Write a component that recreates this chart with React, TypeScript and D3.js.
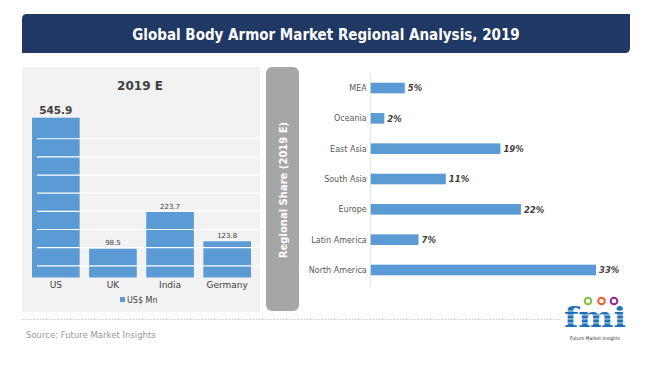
import React, { useEffect, useRef } from "react";
import * as d3 from "d3";

// left chart: 2019 E market value, US$ Mn
const countries = ["US", "UK", "India", "Germany"];
const countryValues = [545.9, 98.5, 223.7, 123.8];
const gridValues = [40, 102, 164, 226, 288, 350, 412, 474];

// right chart: regional share (2019 E)
const regions = ["MEA", "Oceania", "East Asia", "South Asia", "Europe", "Latin America", "North America"];
const regionShares = [5, 2, 19, 11, 22, 7, 33];

const W = 650;
const H = 366;
const FONT = "'DejaVu Sans', Verdana, sans-serif";
const BLUE = "#5b9bd5";

const drawChart = (node: SVGSVGElement) => {
    const svg = d3.select(node);
    svg.selectAll("*").remove();

    // header bar (top-left and bottom-right rounded)
    const hx0 = 22, hx1 = 630, hy0 = 14, hy1 = 53, r = 5;
    svg.append("path")
        .attr("d", `M${hx0},${hy1} V${hy0 + r} Q${hx0},${hy0} ${hx0 + r},${hy0} H${hx1} V${hy1 - r} Q${hx1},${hy1} ${hx1 - r},${hy1} Z`)
        .attr("fill", "#203864");
    svg.append("text")
        .attr("x", 326)
        .attr("y", 40)
        .attr("text-anchor", "middle")
        .attr("fill", "white")
        .attr("font-family", "'DejaVu Sans Condensed', 'DejaVu Sans', sans-serif")
        .attr("font-weight", "bold")
        .attr("font-size", 15)
        .text("Global Body Armor Market Regional Analysis, 2019");

    // left panel
    svg.append("rect")
        .attr("x", 22).attr("y", 67)
        .attr("width", 238).attr("height", 245)
        .attr("fill", "#f2f2f2");
    svg.append("text")
        .attr("x", 140).attr("y", 90)
        .attr("text-anchor", "middle")
        .attr("fill", "#404040")
        .attr("font-family", FONT)
        .attr("font-weight", "bold")
        .attr("font-size", 12)
        .text("2019 E");

    const x = d3.scaleBand()
        .domain(countries)
        .range([32, 251])
        .paddingInner(0.166)
        .paddingOuter(0);
    const y = d3.scaleLinear()
        .domain([0, 545.9])
        .range([277.5, 117.7]);

    const left = svg.append("g");
    left.selectAll("rect.bar")
        .data(countryValues)
        .join("rect")
        .attr("class", "bar")
        .attr("x", (d, i) => x(countries[i])!)
        .attr("y", d => y(d))
        .attr("width", x.bandwidth())
        .attr("height", d => y(0) - y(d))
        .attr("fill", BLUE);

    // white gridlines drawn over the bars
    left.selectAll("line.grid")
        .data(gridValues)
        .join("line")
        .attr("class", "grid")
        .attr("x1", 37).attr("x2", 260)
        .attr("y1", d => y(d)).attr("y2", d => y(d))
        .attr("stroke", "white")
        .attr("stroke-width", 1.2);

    left.selectAll("text.val")
        .data(countryValues)
        .join("text")
        .attr("class", "val")
        .attr("x", (d, i) => x(countries[i])! + x.bandwidth() / 2)
        .attr("y", (d, i) => y(d) - (i === 0 ? 4 : 3.5))
        .attr("text-anchor", "middle")
        .attr("fill", "#404040")
        .attr("font-family", FONT)
        .attr("font-weight", (d, i) => (i === 0 ? "bold" : "normal"))
        .attr("font-size", (d, i) => (i === 0 ? 10.5 : 7))
        .text(d => d.toFixed(1));

    left.selectAll("text.cat")
        .data(countries)
        .join("text")
        .attr("class", "cat")
        .attr("x", d => x(d)! + x.bandwidth() / 2)
        .attr("y", 287.5)
        .attr("text-anchor", "middle")
        .attr("fill", "#404040")
        .attr("font-family", FONT)
        .attr("font-size", 9)
        .text(d => d);

    // legend
    svg.append("rect")
        .attr("x", 120).attr("y", 297)
        .attr("width", 5).attr("height", 5)
        .attr("fill", BLUE);
    svg.append("text")
        .attr("x", 127).attr("y", 302.5)
        .attr("fill", "#404040")
        .attr("font-family", FONT)
        .attr("font-size", 8)
        .text("US$ Mn");

    // grey vertical label box
    svg.append("rect")
        .attr("x", 266).attr("y", 67)
        .attr("width", 33).attr("height", 244)
        .attr("rx", 6)
        .attr("fill", "#a6a6a6");
    svg.append("text")
        .attr("transform", "translate(286.5,190) rotate(-90)")
        .attr("text-anchor", "middle")
        .attr("fill", "white")
        .attr("font-family", FONT)
        .attr("font-weight", "bold")
        .attr("font-size", 10)
        .text("Regional Share (2019 E)");

    // right horizontal bar chart
    const yb = d3.scaleBand()
        .domain(regions)
        .range([73, 285])
        .paddingInner(0.65)
        .paddingOuter(0.32);
    const xs = d3.scaleLinear()
        .domain([0, 33])
        .range([370.7, 596]);

    const right = svg.append("g");
    right.append("line")
        .attr("x1", xs(0)).attr("x2", xs(0))
        .attr("y1", 73).attr("y2", 287)
        .attr("stroke", "#e3e3e3")
        .attr("stroke-width", 1);

    right.selectAll("rect.hbar")
        .data(regionShares)
        .join("rect")
        .attr("class", "hbar")
        .attr("x", xs(0))
        .attr("y", (d, i) => yb(regions[i])!)
        .attr("width", d => xs(d) - xs(0))
        .attr("height", yb.bandwidth())
        .attr("fill", BLUE);

    right.selectAll("text.pct")
        .data(regionShares)
        .join("text")
        .attr("class", "pct")
        .attr("x", d => xs(d) + 3)
        .attr("y", (d, i) => yb(regions[i])! + yb.bandwidth() / 2 + 3.3)
        .attr("fill", "#404040")
        .attr("font-family", FONT)
        .attr("font-weight", "bold")
        .attr("font-style", "italic")
        .attr("font-size", 8.5)
        .text(d => `${d}%`);

    right.selectAll("text.reg")
        .data(regions)
        .join("text")
        .attr("class", "reg")
        .attr("x", xs(0) - 4)
        .attr("y", d => yb(d)! + yb.bandwidth() / 2 + 3)
        .attr("text-anchor", "end")
        .attr("fill", "#595959")
        .attr("font-family", FONT)
        .attr("font-size", 8)
        .text(d => d);

    // footer
    svg.append("line")
        .attr("x1", 22).attr("x2", 562)
        .attr("y1", 319.5).attr("y2", 319.5)
        .attr("stroke", "#c8c8c8")
        .attr("stroke-dasharray", "1.5,1.5");
    svg.append("text")
        .attr("x", 26).attr("y", 338)
        .attr("fill", "#9a9a9a")
        .attr("font-family", FONT)
        .attr("font-size", 8.5)
        .text("Source: Future Market Insights");

    // fmi logo
    const logo = svg.append("g");
    logo.append("text")
        .attr("x", 595).attr("y", 327)
        .attr("text-anchor", "middle")
        .attr("fill", "#1f6fb8")
        .attr("font-family", "'DejaVu Serif', serif")
        .attr("font-weight", "bold")
        .attr("font-size", 27)
        .attr("textLength", 62)
        .attr("lengthAdjust", "spacingAndGlyphs")
        .text("fmi");
    [311, 315, 319, 323].forEach(ly => {
        logo.append("line")
            .attr("x1", 563).attr("x2", 628)
            .attr("y1", ly).attr("y2", ly)
            .attr("stroke", "white")
            .attr("stroke-width", 0.8);
    });
    [["#7ac142", 588], ["#f15a29", 601.5], ["#92278f", 614]].forEach(([c, cx]) => {
        logo.append("circle")
            .attr("cx", cx as number).attr("cy", 301)
            .attr("r", 3.3)
            .attr("fill", "none")
            .attr("stroke", c as string)
            .attr("stroke-width", 2);
    });
    logo.append("text")
        .attr("x", 595).attr("y", 340)
        .attr("text-anchor", "middle")
        .attr("fill", "#333")
        .attr("font-family", "'DejaVu Sans Condensed', sans-serif")
        .attr("font-size", 5)
        .text("Future Market Insights");
};

export default function App() {
    const ref = useRef<SVGSVGElement>(null);
    useEffect(() => {
        if (ref.current) drawChart(ref.current);
    }, []);
    return (
        <svg
            ref={ref}
            width={W}
            height={H}
            style={{ position: "absolute", left: 0, top: 0, background: "white" }}
        />
    );
}
